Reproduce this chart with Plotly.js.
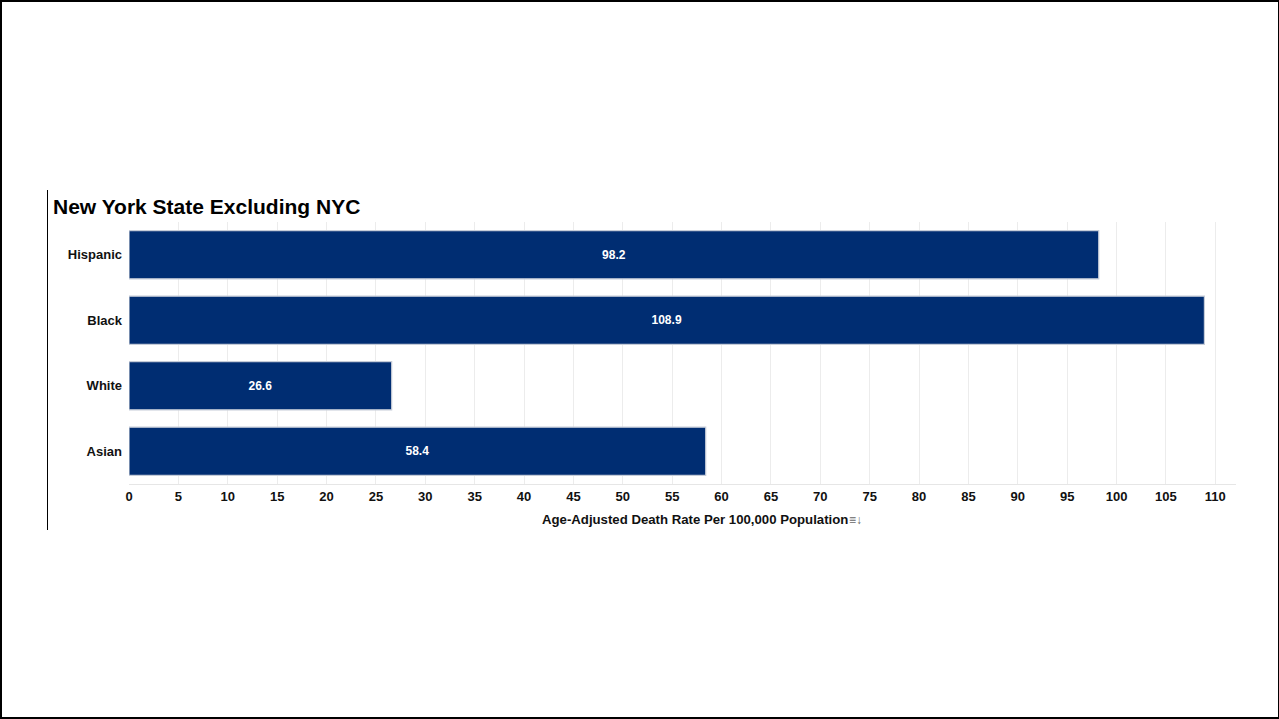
<!DOCTYPE html>
<html>
<head>
<meta charset="utf-8">
<script src="https://cdn.plot.ly/plotly-3.0.1.min.js"></script>
<style>
html,body{margin:0;padding:0;background:#fff;}
#wrap{position:relative;width:1279px;height:719px;}
#chart{position:absolute;left:0;top:0;width:1279px;height:719px;}
#frame{position:absolute;left:0;top:0;width:1279px;height:719px;box-sizing:border-box;border:2px solid #000;border-right-width:1px;pointer-events:none;}
#vline{position:absolute;left:47px;top:190px;width:1px;height:340px;background:#000;pointer-events:none;}
</style>
</head>
<body>
<div id="wrap">
<div id="chart"></div>
<div id="frame"></div>
<div id="vline"></div>
</div>
<script>
const categories = ["Hispanic", "Black", "White", "Asian"];
const rates = [98.2, 108.9, 26.6, 58.4];
const labels = ["98.2", "108.9", "26.6", "58.4"];
const chartTitle = "New York State Excluding NYC";
const xTitle = "Age-Adjusted Death Rate Per 100,000 Population";

const FONT = "Arial, 'Liberation Sans', sans-serif";

const trace = {
  type: "bar",
  orientation: "h",
  y: categories,
  x: rates,
  text: labels,
  textposition: "inside",
  insidetextanchor: "middle",
  textfont: {family: FONT, size: 12, color: "#ffffff", weight: "bold"},
  marker: {color: "#002D72", line: {color: "#c5ccd8", width: 1.2}},
  hoverinfo: "x+y",
  cliponaxis: false
};

const layout = {
  width: 1279, height: 719,
  margin: {l: 129, r: 43, t: 222, b: 235},
  paper_bgcolor: "#ffffff",
  plot_bgcolor: "#ffffff",
  showlegend: false,
  bargap: 0.265,
  font: {family: FONT, color: "#222"},
  title: {
    text: chartTitle,
    font: {family: FONT, size: 21, color: "#000", weight: "bold"},
    xref: "container", yref: "container",
    x: 53/1279, xanchor: "left",
    y: 1 - 207/719, yanchor: "middle"
  },
  xaxis: {
    range: [0, 112.1],
    dtick: 5, tick0: 0,
    showgrid: true, gridcolor: "#ececec", gridwidth: 1,
    zeroline: false,
    showline: true, linecolor: "#e6e6e6", linewidth: 1,
    ticks: "", ticklen: 0,
    tickfont: {family: FONT, size: 13, color: "#111", weight: "bold"},
    fixedrange: true
  },
  yaxis: {
    autorange: "reversed",
    showgrid: false, zeroline: false, showline: false,
    ticks: "", ticklabelstandoff: 6,
    tickfont: {family: FONT, size: 13, color: "#111", weight: "bold"},
    fixedrange: true
  },
  annotations: [{
    text: xTitle, xref: "paper", yref: "paper",
    x: (695-129)/1107, y: -(519-484)/262,
    xanchor: "center", yanchor: "middle",
    showarrow: false,
    font: {family: FONT, size: 13.2, color: "#111", weight: "bold"}
  }, {
    text: "≡↓", xref: "paper", yref: "paper",
    x: (856-129)/1107, y: -(520-484)/262,
    xanchor: "center", yanchor: "middle",
    showarrow: false,
    font: {family: FONT, size: 12, color: "#666"}
  }]
};

Plotly.newPlot("chart", [trace], layout, {displayModeBar: false});
</script>
</body>
</html>
